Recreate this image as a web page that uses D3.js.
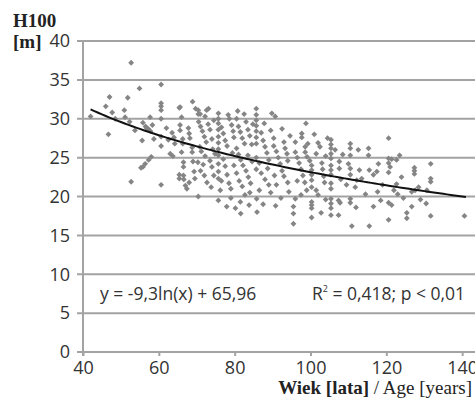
<!DOCTYPE html>
<html>
<head>
<meta charset="utf-8">
<script src="https://cdn.jsdelivr.net/npm/d3@7"></script>
<style>
  body { margin: 0; background: #fff; }
  svg { display: block; }
</style>
</head>
<body>
<div id="chart"></div>
<script>
"use strict";

// == data: [age in years, H100 in m] ==
var standPoints = [
  [42,30.3],[46,31.6],[47,32.8],[46.7,28.0],[47.7,30.8],[48.5,30.0],
  [50.9,31.1],[51.8,32.7],[52.7,37.2],[51.1,30.2],[52.7,21.9],[53.7,28.5],[54.9,33.9],[52.3,29.6],
  [55.8,29.5],[56.5,29.0],[57.2,28.7],[57.8,28.4],[58.3,29.2],[55.6,27.2],[58.7,27.4],[57.7,30.2],
  [58,25.1],[57.3,24.7],[56.4,24.2],[55.8,23.8],[55.3,23.7],[56.8,28.8],
  [60.6,34.4],[60.6,32.0],[60.6,31.6],[60.6,31.1],[60.6,30.0],[60.6,27.7],[60.6,26.5],[60.6,21.5],
  [63,25.5],[63.7,25.2],[62,28.8],[63.5,28.2],[64,27.6],[62.5,27.3],[64.2,26.8],[65.4,31.4],[65.4,22.8],[65.4,22.3],
  [65.6,31.5],[66,30.2],[65.6,29.2],[65.6,28.5],[66.3,27.4],[66.3,26.8],[66,25.7],[66.5,24.4],[66.5,23.8],
  [66.5,22.7],[66.6,22.2],[67,21.4],[67.4,21.0],[68.9,32.2],[67.8,28.8],[68,28.1],[68.2,27.5],[68.8,26.3],
  [68.8,25.7],[69,24.5],[69.3,23.2],[69.5,22.3],[68,21.8],[69.7,31.3],
  [70.4,31.1],[70.4,30.6],[70.9,30.6],[72.2,30.3],[73.1,31.3],[70.5,29.6],[71,29.0],[71.5,28.4],[72,27.7],
  [72.5,27.0],[70.8,26.4],[71.2,25.8],[72.2,25.2],[73,29.3],[73.5,28.6],[74,27.4],[74.2,26.1],[70.3,24.4],
  [71,23.3],[72,22.7],[72.7,21.8],[73.5,24.6],[74,23.8],[74.5,22.7],[70.4,20.0],[73.8,21.2],[74.5,29.8],
  [72.6,31.1],[71.7,24.1],[74.8,25.5],
  [75.7,30.7],[75.7,29.4],[75.7,28.6],[75.7,27.7],[75.7,26.9],[75.7,26.1],[75.7,25.3],[75.7,24.2],[75.7,23.2],
  [75.7,22.3],[75.7,19.5],[75.7,30.0],[76.5,28.9],[77,28.1],[77.5,27.2],[78,26.5],[78.3,30.5],[78.6,30.0],
  [77,24.8],[77.5,23.9],[78,22.8],[78.5,21.7],[79,21.0],[77.9,18.7],[79.2,29.2],[79.6,28.4],[79.8,27.6],
  [79.4,25.6],[76.5,22.0],[79.8,24.0],[76.2,20.8],[79,19.8],
  [80.5,30.0],[81,29.0],[81.5,28.3],[82,27.5],[82.6,26.8],[83,29.6],[83.5,28.6],[84,27.8],[84.5,26.7],
  [80.5,26.2],[81,25.4],[81.6,24.7],[82.2,24.0],[83,23.3],[83.6,22.5],[84.2,21.7],[80.5,23.0],[81.2,22.0],
  [82,21.3],[82.7,20.2],[84,20.5],[80.2,18.5],[81.5,19.3],[83.5,25.3],[84.6,24.5],[80.8,31.0],[82.5,30.6],
  [84.8,29.3],[83.8,18.9],[81.6,17.8],
  [85.7,31.3],[85.7,30.5],[85.7,29.8],[85.7,29.1],[85.7,28.4],[85.7,27.6],[85.7,26.8],[85.7,25.0],[85.7,23.5],
  [85.8,19.7],[87.8,29.4],[87,28.2],[87.5,27.2],[88,26.4],[88.5,25.6],[89,24.7],[89.8,30.7],[89.5,28.5],
  [86.5,24.3],[87,23.0],[88,22.2],[89,21.5],[89.5,20.5],[86.5,20.8],[87.5,19.0],[85.9,18.0],[88.7,23.6],
  [90.7,30.3],[92.5,28.7],[90.3,27.5],[90.3,26.5],[91,25.8],[91.5,25.0],[93,27.0],[93.3,26.2],[93.8,25.5],
  [92,24.2],[92.5,23.3],[93,22.6],[94,21.8],[90.5,22.7],[91,21.5],[94.3,20.6],[94,24.6],[92.2,19.8],
  [90.8,18.8],[94.6,27.8],
  [96,19.7],[95.5,18.7],[95.5,17.8],[95.5,16.5],[97.7,28.1],[97.7,27.6],[96,27.0],[96,25.7],[96.5,25.0],
  [97,24.3],[97.5,23.5],[98,22.7],[98.6,26.4],[98.5,21.8],[99,20.8],[99.3,26.8],[98.6,25.7],[99.1,25.1],
  [99.8,24.6],[96.5,22.0],[98.8,29.4],[97.5,20.2],
  [100.3,24.0],[100.3,23.4],[100.3,22.8],[100.3,22.1],[100.3,21.2],[100.3,19.3],[100.3,18.5],[100.3,17.3],
  [100.3,18.9],[102,26.9],[102.5,26.4],[103,24.3],[103.2,23.5],[103.5,22.6],[103.7,21.8],[102,20.2],
  [101.5,25.5],[104,25.2],[104.5,27.5],[101,28.0],[104,19.6],[102.8,17.9],[101.5,20.8],
  [105.4,27.3],[105.4,26.7],[105.4,26.2],[105.4,25.5],[105.4,24.9],[105.4,24.0],[105.4,23.4],[105.4,22.8],
  [105.4,21.7],[105.4,21.0],[105.4,19.7],[105.4,19.1],[105.4,18.5],[105.4,17.6],[107.4,17.6],[107.8,19.2],
  [107.4,19.5],[107.6,24.5],[107.6,23.6],[108,22.2],[106.5,26.0],[108.5,25.4],[109.5,21.5],
  [110.5,26.8],[110.5,26.2],[110.5,25.3],[110,24.2],[110.5,23.6],[110.5,22.8],[110.5,19.7],[110.5,19.2],
  [110.9,16.2],[112.6,26.0],[112.9,23.4],[112.2,22.1],[111.8,21.2],[113.5,22.3],[112,18.6],[114.5,20.3],
  [115.3,26.2],[115.3,25.3],[115.5,23.4],[116.6,22.8],[117.5,23.2],[117.9,24.2],[117.7,20.6],[116.6,18.7],
  [115.5,16.2],[119,21.5],[118.5,19.5],
  [120.6,27.5],[120.6,24.9],[121.4,24.8],[122.7,24.7],[120.6,24.3],[121,23.8],[120.6,23.1],[122.7,21.6],
  [120.6,19.2],[121.4,18.9],[120.6,17.0],[123,20.3],[124,22.5],[122,20.8],[123.5,25.3],[124.5,19.8],
  [127.4,23.7],[127.4,23.3],[127.4,22.9],[126.7,20.6],[127.6,20.8],[126.7,18.7],[125.4,17.9],[125.4,17.2],
  [128.5,21.2],[129,19.6],
  [131.7,24.2],[131.7,22.3],[131.7,21.9],[130.7,20.8],[130.5,19.1],[131.7,17.5],
  [140.6,17.5]
];

var xTicks = [40, 60, 80, 100, 120, 140];
var yTicks = [0, 5, 10, 15, 20, 25, 30, 35, 40];

// == fitted log trend, as printed on the chart ==
var trendSlope = -9.3, trendIntercept = 65.96;
var trendRange = [42, 141];
var equationText = "y = -9,3ln(x) + 65,96";
var fitText = " = 0,418; p < 0,01";

var width = 475, height = 403;

var svg = d3.select("#chart")
  .append("svg")
  .attr("width", width)
  .attr("height", height);

var x = d3.scaleLinear().domain([40, 160]).range([83, 538]);
var y = d3.scaleLinear().domain([0, 40]).range([352, 41]);

var gridColor = "#a3a3a3";
var labelFont = "'Open Sans', sans-serif";

// == horizontal gridlines (they also make the short y ticks) ==
svg.append("g")
  .selectAll("line")
  .data(yTicks)
  .enter()
  .append("line")
  .attr("x1", 77)
  .attr("x2", width)
  .attr("y1", function (d) { return y(d); })
  .attr("y2", function (d) { return y(d); })
  .attr("stroke", gridColor)
  .attr("stroke-width", 2);

// == y axis line ==
svg.append("line")
  .attr("x1", x(40)).attr("x2", x(40))
  .attr("y1", y(40)).attr("y2", y(0) + 4)
  .attr("stroke", gridColor)
  .attr("stroke-width", 2);

// == x axis with ticks ==
var xAxis = d3.axisBottom(x)
  .tickValues(xTicks)
  .tickSize(4)
  .tickSizeOuter(0)
  .tickPadding(5);

var xg = svg.append("g")
  .attr("transform", "translate(0," + y(0) + ")")
  .call(xAxis);
xg.select(".domain").remove();
xg.selectAll(".tick line").attr("stroke", gridColor).attr("stroke-width", 2);
xg.selectAll(".tick text")
  .attr("fill", "#333")
  .attr("font-family", labelFont)
  .attr("font-size", 18);

// == y tick labels ==
var yAxis = d3.axisLeft(y)
  .tickValues(yTicks)
  .tickSize(0)
  .tickPadding(13);

var yg = svg.append("g")
  .attr("transform", "translate(" + x(40) + ",0)")
  .call(yAxis);
yg.select(".domain").remove();
yg.selectAll(".tick text")
  .attr("fill", "#333")
  .attr("font-family", labelFont)
  .attr("font-size", 18);

// == scatter of stands ==
var diamond = d3.symbol().type(d3.symbolSquare).size(17);
svg.append("g")
  .selectAll("path")
  .data(standPoints)
  .enter()
  .append("path")
  .attr("d", diamond)
  .attr("transform", function (d) {
    return "translate(" + x(d[0]) + "," + y(d[1]) + ") rotate(45)";
  })
  .attr("fill", "#858585");

// == trend line ==
var trendLine = d3.line()
  .x(function (d) { return x(d); })
  .y(function (d) { return y(trendSlope * Math.log(d) + trendIntercept); });

svg.append("path")
  .datum(d3.range(trendRange[0], trendRange[1] + 0.5, 1))
  .attr("d", trendLine)
  .attr("fill", "none")
  .attr("stroke", "#111")
  .attr("stroke-width", 2);

// == equation and fit labels ==
svg.append("text")
  .attr("x", 100)
  .attr("y", 300)
  .attr("font-family", labelFont)
  .attr("font-size", 17.5)
  .attr("fill", "#333")
  .text(equationText);

var r2 = svg.append("text")
  .attr("x", 312)
  .attr("y", 300)
  .attr("font-family", labelFont)
  .attr("font-size", 17.5)
  .attr("fill", "#333");
r2.append("tspan").text("R");
r2.append("tspan").attr("font-size", 9).attr("dy", -8).text("2");
r2.append("tspan").attr("dy", 8).text(fitText);

// == axis titles ==
var serif = "'Liberation Serif', 'Times New Roman', serif";
svg.append("text")
  .attr("x", 13).attr("y", 27)
  .attr("font-family", serif)
  .attr("font-weight", "bold")
  .attr("font-size", 19)
  .attr("fill", "#222")
  .text("H100");
svg.append("text")
  .attr("x", 13).attr("y", 48)
  .attr("font-family", serif)
  .attr("font-weight", "bold")
  .attr("font-size", 19)
  .attr("fill", "#222")
  .text("[m]");

var xTitle = svg.append("text")
  .attr("x", 472).attr("y", 394)
  .attr("text-anchor", "end")
  .attr("font-family", serif)
  .attr("font-size", 19)
  .attr("fill", "#222");
xTitle.append("tspan").attr("font-weight", "bold").text("Wiek [lata]");
xTitle.append("tspan").text(" / Age [years]");
</script>
</body>
</html>
